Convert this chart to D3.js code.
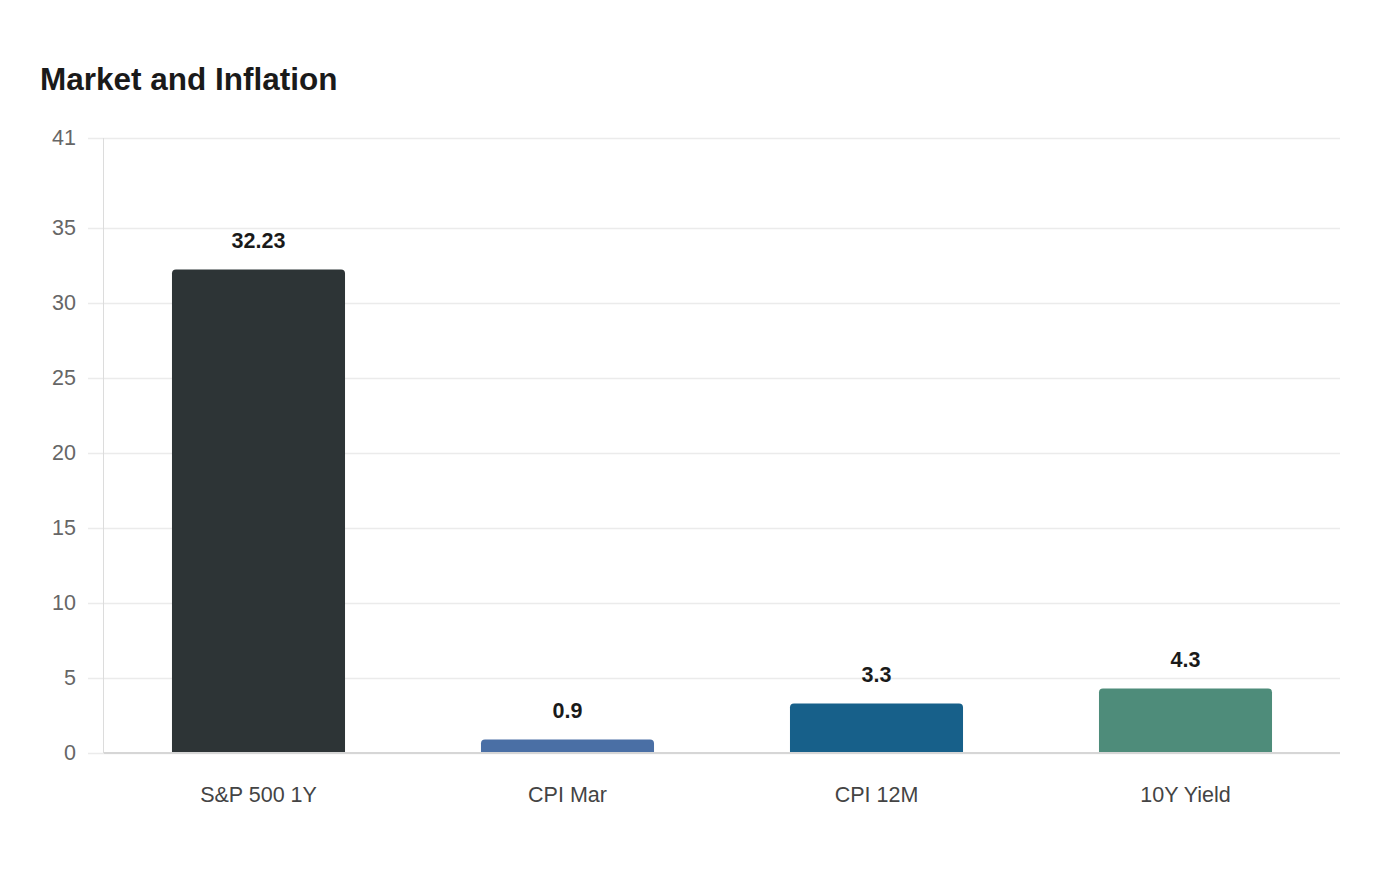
<!DOCTYPE html>
<html>
<head>
<meta charset="utf-8">
<script src="https://cdn.jsdelivr.net/npm/d3@7"></script>
<style>
	body { margin: 0; background: #fff; font-family: "Liberation Sans", Arial, sans-serif; }
	.viz-cntr { width: 1400px; height: 880px; }
	.viz text { font-family: "Liberation Sans", Arial, sans-serif; }
</style>
</head>
<body>
<div class="viz-cntr"><svg class="viz" width="1400" height="880"></svg></div>
<script>
const categories = ["S&P 500 1Y", "CPI Mar", "CPI 12M", "10Y Yield"];
const values = [32.23, 0.9, 3.3, 4.3];
const barColors = ["#2d3436", "#4a6fa5", "#17608a", "#4e8c7a"];
const yTicks = [0, 5, 10, 15, 20, 25, 30, 35, 41];
const yMax = 41;

function render() {
	let grph = d3.select(".viz");
	const left = 104, right = 1340, top = 138, bttm = 753;

	let x = d3.scaleBand().domain(categories).range([left, right])
		.paddingInner(0.44).paddingOuter(0.22);
	let y = d3.scaleLinear().domain([0, yMax]).range([bttm, top]);

	// title
	grph.append("text")
		.attr("x", 40).attr("y", 90)
		.attr("font-size", 31.5).attr("font-weight", "bold")
		.attr("fill", "#1a1a1a")
		.text("Market and Inflation");

	// grid lines + y labels
	let ay = grph.append("g").attr("class", "axisy")
		.attr("transform", "translate(" + left + ",0)")
		.call(d3.axisLeft(y).tickValues(yTicks).tickSize(16).tickPadding(12).tickFormat(d3.format("d")));
	ay.select(".domain").remove();
	ay.selectAll(".tick line").attr("x2", right - left).attr("x1", -16)
		.attr("stroke", "#ebebeb").attr("stroke-width", 1.5);
	ay.selectAll(".tick text")
		.attr("font-size", 21.5).attr("fill", "#666");

	// y axis line
	grph.append("line")
		.attr("x1", left - 0.5).attr("x2", left - 0.5)
		.attr("y1", top).attr("y2", bttm)
		.attr("stroke", "#dcdcdc").attr("stroke-width", 1);

	// bars with rounded top corners
	const r = 4;
	grph.append("g").selectAll("path").data(values).join("path")
		.attr("fill", (d, i) => barColors[i])
		.attr("d", (d, i) => {
			let x0 = x(categories[i]), w = x.bandwidth();
			let y0 = y(d), y1 = y(0);
			return "M" + x0 + "," + y1 + "V" + (y0 + r) +
				"Q" + x0 + "," + y0 + " " + (x0 + r) + "," + y0 +
				"H" + (x0 + w - r) +
				"Q" + (x0 + w) + "," + y0 + " " + (x0 + w) + "," + (y0 + r) +
				"V" + y1 + "Z";
		});

	// value labels
	grph.append("g").selectAll("text").data(values).join("text")
		.attr("x", (d, i) => x(categories[i]) + x.bandwidth() / 2)
		.attr("y", d => y(d) - 22)
		.attr("text-anchor", "middle")
		.attr("font-size", 21.5).attr("font-weight", "bold")
		.attr("fill", "#1a1a1a")
		.text(d => d);

	// x axis
	let ax = grph.append("g").attr("class", "axisx")
		.attr("transform", "translate(0," + bttm + ")")
		.call(d3.axisBottom(x).tickSize(0).tickPadding(34));
	ax.select(".domain").attr("stroke", "#d6d6d6").attr("stroke-width", 2)
		.attr("d", "M" + left + ",0H" + right);
	ax.selectAll(".tick text")
		.attr("font-size", 21.5).attr("fill", "#444");
}

render();
</script>
</body>
</html>
